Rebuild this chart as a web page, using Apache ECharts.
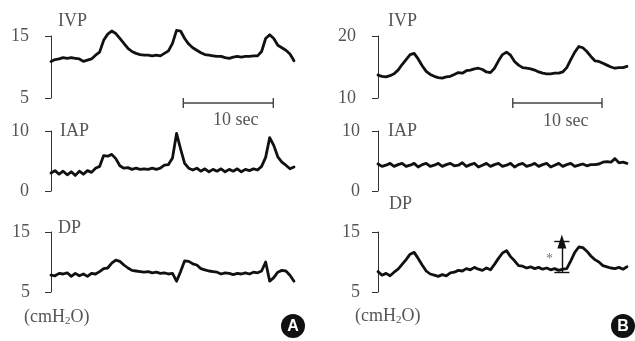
<!DOCTYPE html>
<html><head><meta charset="utf-8">
<script src="https://cdn.jsdelivr.net/npm/echarts@6/dist/echarts.min.js"></script>
<style>html,body{margin:0;padding:0;background:#fff}#c{width:635px;height:341px}</style>
</head><body><div id="c"></div>
<script>
// ---- data (cmH2O), one sample every sampleStep seconds ----
const sampleStep = 0.45;
const ivpA = [10.9,11.2,11.3,11.5,11.4,11.5,11.4,11.3,10.9,11.1,
  11.3,11.9,12.4,14.3,15.3,15.8,15.4,14.6,13.8,13.0,
  12.5,12.2,12.0,11.9,11.9,11.8,11.9,11.8,12.2,12.6,
  13.8,15.9,15.8,14.6,13.7,13.1,12.7,12.3,12.0,11.9,
  11.8,11.7,11.7,11.5,11.4,11.6,11.7,11.6,11.7,11.7,
  11.8,11.8,12.5,14.6,15.2,14.6,13.5,13.1,12.7,12.1,
  11.0];
const iapA = [3.0,3.4,2.8,3.3,2.7,3.2,2.6,3.3,2.8,3.4,
  3.1,3.8,4.1,5.9,5.8,6.1,5.4,4.2,3.8,3.9,
  3.6,3.8,3.6,3.7,3.6,3.8,3.6,3.8,4.3,4.4,
  5.5,9.6,7.0,4.6,3.8,3.5,3.8,3.3,3.7,3.2,
  3.6,3.3,3.7,3.2,3.6,3.3,3.7,3.2,3.6,3.4,
  3.7,3.5,4.1,5.6,8.9,7.6,5.7,4.8,4.3,3.7,
  4.0];
const dpA = [7.8,7.7,8.1,8.0,8.2,7.6,8.1,7.7,8.0,7.6,
  8.1,8.0,8.4,8.9,9.0,9.8,10.3,10.1,9.5,9.0,
  8.6,8.5,8.4,8.3,8.4,8.2,8.3,8.1,8.2,8.0,
  8.1,6.8,8.4,10.2,10.1,9.7,9.5,8.9,8.7,8.5,
  8.4,8.3,8.0,8.2,8.1,7.9,8.1,8.0,8.2,8.0,
  8.3,8.2,8.5,10.0,6.8,7.4,8.3,8.6,8.5,7.8,
  6.8];
const ivpB = [13.7,13.5,13.4,13.6,13.9,14.5,15.4,16.2,17.0,17.2,
  16.3,15.2,14.3,13.8,13.5,13.3,13.2,13.4,13.5,13.8,
  14.1,14.0,14.4,14.5,14.7,14.8,14.6,14.2,14.1,14.8,
  16.0,17.0,17.4,16.9,15.9,15.3,14.9,14.8,14.7,14.5,
  14.2,14.0,13.9,13.9,14.0,14.0,14.2,14.9,16.2,17.4,
  18.3,18.1,17.5,16.7,16.0,15.9,15.6,15.3,15.0,14.8,
  14.9,14.9,15.1];
const iapB = [4.5,4.1,4.3,4.6,4.1,4.4,4.6,4.1,4.3,4.6,
  4.0,4.4,4.6,4.1,4.3,4.6,4.1,4.4,4.6,4.2,
  4.3,4.7,4.1,4.4,4.6,4.0,4.3,4.6,4.1,4.4,
  4.6,4.1,4.3,4.6,4.0,4.4,4.6,4.1,4.3,4.6,
  4.1,4.4,4.6,4.0,4.3,4.6,4.1,4.4,4.6,4.1,
  4.3,4.5,4.2,4.4,4.4,4.5,4.8,4.9,4.8,5.4,
  4.7,4.8,4.6];
const dpB = [8.4,7.8,8.1,7.7,8.3,8.8,9.6,10.4,11.3,11.6,
  10.6,9.5,8.5,8.0,7.8,7.6,7.9,7.7,8.2,8.3,
  8.6,8.5,8.9,8.7,9.1,8.8,8.6,9.0,8.7,9.6,
  10.6,11.5,11.9,10.9,10.2,9.4,9.3,9.0,9.2,8.9,
  9.1,8.8,9.0,8.7,8.9,8.6,8.8,8.9,10.2,11.6,
  12.5,12.4,11.8,11.0,10.4,10.0,9.4,9.2,9.0,8.9,
  9.1,8.8,9.2];

// axis tick values [min, max] per panel
const ticksIvpA = [5, 15], ticksIapA = [0, 10], ticksDpA = [5, 15];
const ticksIvpB = [10, 20], ticksIapB = [0, 10], ticksDpB = [5, 15];
const panelNames = ['IVP', 'IAP', 'DP'];
const scaleBarSec = 10;
const scaleBarStartA = 14.7, scaleBarStartB = 15.1;
const deltaTime = 20.6, deltaLow = 8.3, deltaHigh = 13.4;

// ---- layout ----
const FONT = "'Liberation Serif', 'DejaVu Serif', serif";
const GRAY = '#555';
const rows = [{top: 36, height: 62}, {top: 131, height: 60}, {top: 232, height: 60}];
const cols = [{left: 51, width: 243}, {left: 378, width: 249}];
const offsets = [[10, 10, 9], [10, 6, 6]];
const traces = [[ivpA, iapA, dpA], [ivpB, iapB, dpB]];
const ticks = [[ticksIvpA, ticksIapA, ticksDpA], [ticksIvpB, ticksIapB, ticksDpB]];

function toSeries(arr) { return arr.map((v, i) => [+(i * sampleStep).toFixed(3), v]); }

const grid = [], xAxis = [], yAxis = [], series = [];
let k = 0;
for (let c = 0; c < 2; c++) {
  for (let r = 0; r < 3; r++) {
    const arr = traces[c][r], tk = ticks[c][r];
    grid.push({left: cols[c].left, width: cols[c].width, top: rows[r].top, height: rows[r].height});
    xAxis.push({type: 'value', gridIndex: k, min: 0, max: (arr.length - 1) * sampleStep, show: false});
    yAxis.push({
      type: 'value', gridIndex: k, min: tk[0], max: tk[1], offset: offsets[c][r],
      splitLine: {show: false},
      axisLine: {show: true, lineStyle: {color: '#333', width: 1}},
      axisTick: {show: true, length: 6, inside: false, customValues: tk, lineStyle: {color: '#333', width: 1}},
      axisLabel: {show: true, customValues: tk, margin: 12, color: GRAY, fontFamily: FONT, fontSize: 18}
    });
    series.push({
      type: 'line', xAxisIndex: k, yAxisIndex: k, data: toSeries(arr),
      showSymbol: false, symbol: 'none', clip: false, silent: true, animation: false,
      lineStyle: {color: '#111', width: 2.8, join: 'round', cap: 'round'}
    });
    if (r === 0) {
      // 10-second scale bar under the IVP trace
      const start = c === 0 ? scaleBarStartA : scaleBarStartB;
      const yb = tk[0] - (tk[1] - tk[0]) * 5 / 62;
      const h = (tk[1] - tk[0]) * 0.8 / 10;
      series.push({
        type: 'line', xAxisIndex: k, yAxisIndex: k, showSymbol: false, symbol: 'none',
        clip: false, silent: true, animation: false,
        lineStyle: {color: '#444', width: 1.4},
        data: [[start, yb + h], [start, yb - h], [start, yb], [start + scaleBarSec, yb],
               [start + scaleBarSec, yb + h], [start + scaleBarSec, yb - h]]
      });
    }
    if (c === 1 && r === 2) {
      const hw = 0.85;
      series[series.length - 1].markLine = {
        silent: true, symbol: 'none', animation: false,
        lineStyle: {color: '#111', width: 1.4, type: 'solid'}, label: {show: false},
        data: [
          [{coord: [deltaTime, deltaLow]}, {coord: [deltaTime, deltaHigh], symbol: 'triangle', symbolSize: [9, 14]}],
          [{coord: [deltaTime - hw, deltaHigh]}, {coord: [deltaTime + hw, deltaHigh]}],
          [{coord: [deltaTime - hw, deltaLow]}, {coord: [deltaTime + hw, deltaLow]}]
        ]
      };
    }
    k++;
  }
}

function txt(text, x, y) {
  return {type: 'text', x: x, y: y, silent: true,
    style: {text: text, fill: GRAY, font: '18px ' + FONT, textAlign: 'left', textVerticalAlign: 'middle'}};
}
function unitText(x, y) {
  return {type: 'text', x: x, y: y, silent: true, style: {
    text: '{m|(cmH}{s|2}{m|O)}', textAlign: 'left', textVerticalAlign: 'middle',
    rich: {m: {fontSize: 18, fontFamily: FONT, fill: GRAY, color: GRAY, lineHeight: 22, verticalAlign: 'middle'},
           s: {fontSize: 11, fontFamily: FONT, fill: GRAY, color: GRAY, lineHeight: 22, verticalAlign: 'bottom', padding: [0, 0, 1, 0]}}
  }};
}
function badge(letter, cx, cy) {
  return [
    {type: 'circle', silent: true, shape: {cx: cx, cy: cy, r: 12}, style: {fill: '#111'}},
    {type: 'text', silent: true, x: cx, y: cy + 1, style: {text: letter, fill: '#fff',
      font: "bold 16px 'Liberation Sans', Arial, sans-serif", textAlign: 'center', textVerticalAlign: 'middle'}}
  ];
}

const graphic = [
  txt(panelNames[0], 58, 21), txt(panelNames[1], 60, 131.5), txt(panelNames[2], 58, 228),
  txt(panelNames[0], 388, 21), txt(panelNames[1], 388, 131.5), txt(panelNames[2], 389, 204),
  txt(scaleBarSec + ' sec', 213, 120), txt(scaleBarSec + ' sec', 543, 121),
  {type: 'text', x: 546, y: 259, silent: true, style: {text: '*', fill: '#777', font: '14px ' + FONT, textAlign: 'left', textVerticalAlign: 'middle'}},
  unitText(24, 317), unitText(355, 316)
].concat(badge('A', 293, 326), badge('B', 623, 326));

const chart = echarts.init(document.getElementById('c'), null, {renderer: 'canvas'});
chart.setOption({animation: false, backgroundColor: '#fff', grid: grid, xAxis: xAxis, yAxis: yAxis, series: series, graphic: graphic});
</script></body></html>
